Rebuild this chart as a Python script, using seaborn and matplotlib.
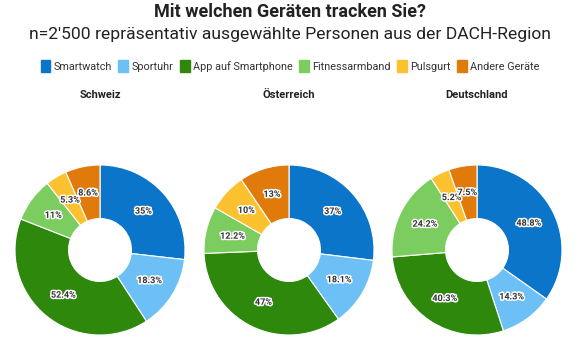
import matplotlib
matplotlib.use("Agg")
import matplotlib.pyplot as plt
import matplotlib.patheffects as pe
from matplotlib.patches import Patch
import seaborn as sns

# Data
categories = ["Smartwatch", "Sportuhr", "App auf Smartphone", "Fitnessarmband", "Pulsgurt", "Andere Geräte"]
regions = ["Schweiz", "Österreich", "Deutschland"]
schweiz = [35, 18.3, 52.4, 11, 5.3, 8.6]
oesterreich = [37, 18.1, 47, 12.2, 10, 13]
deutschland = [48.8, 14.3, 40.3, 24.2, 5.2, 7.5]
labels_ch = ["35%", "18.3%", "52.4%", "11%", "5.3%", "8.6%"]
labels_at = ["37%", "18.1%", "47%", "12.2%", "10%", "13%"]
labels_de = ["48.8%", "14.3%", "40.3%", "24.2%", "5.2%", "7.5%"]

colors = ["#0a75c9", "#6cc0f5", "#2d880c", "#7ccd5f", "#fcc12f", "#df7a0b"]

sns.set_theme(style="white")
plt.rcParams['font.family'] = ['Roboto', 'DejaVu Sans']
pal = sns.color_palette(colors)

W, H = 580, 354
fig = plt.figure(figsize=(W / 100, H / 100), dpi=100)

fig.text(0.5, 1 - 12 / H, "Mit welchen Geräten tracken Sie?", ha="center", va="center",
         fontsize=13, fontweight="bold", color="#222222")
fig.text(0.5, 1 - 35 / H, "n=2'500 repräsentativ ausgewählte Personen aus der DACH-Region",
         ha="center", va="center", fontsize=12.6, color="#222222")

handles = [Patch(facecolor=c, edgecolor=c, label=l) for c, l in zip(pal, categories)]
fig.legend(handles=handles, loc="center", bbox_to_anchor=(0.5, 1 - 66 / H), ncol=6,
           frameon=False, fontsize=7.8, handlelength=0.9, handleheight=1.2,
           handletextpad=0.3, columnspacing=0.6, labelcolor="#333333")

centers = [100, 289, 477]
radius = 85
cy = 250
data = [schweiz, oesterreich, deutschland]
labels = [labels_ch, labels_at, labels_de]

for name, cx, vals, labs in zip(regions, centers, data, labels):
    ax = fig.add_axes([(cx - radius) / W, (H - cy - radius) / H, 2 * radius / W, 2 * radius / H])
    wedges, texts = ax.pie(vals, colors=pal, startangle=90, counterclock=False, radius=1,
                           wedgeprops=dict(width=0.63, edgecolor="white", linewidth=0.8),
                           labels=labs, labeldistance=0.685)
    for t in texts:
        t.set_ha("center")
        t.set_va("center")
        t.set_fontsize(6.5)
        t.set_fontweight("bold")
        t.set_color("#333333")
        t.set_path_effects([pe.withStroke(linewidth=2.2, foreground="white")])
    ax.set_xlim(-1, 1)
    ax.set_ylim(-1, 1)
    ax.set_aspect("equal")
    ax.axis("off")
    fig.text(cx / W, 1 - 95 / H, name, ha="center", va="center", fontsize=8,
             fontweight="bold", color="#222222")

fig.savefig("out.png", dpi=100)
